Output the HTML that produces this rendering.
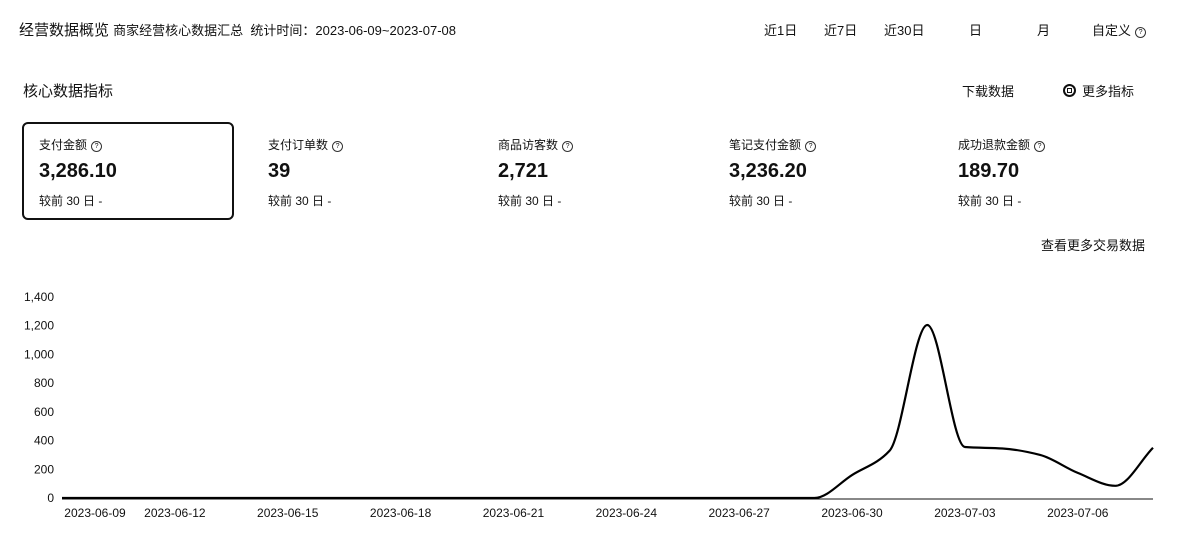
<!DOCTYPE html>
<html><head><meta charset="utf-8"><style>
body{margin:0;width:1179px;height:548px;background:#fff;font-family:"Liberation Sans","Noto Sans CJK SC",sans-serif;color:#111;position:relative;overflow:hidden}
.a{position:absolute;white-space:nowrap}
.card{position:absolute;top:122px;height:98px;width:212px;box-sizing:border-box}
.card .l{position:absolute;left:17px;top:14px;font-size:12px}
.card .v{position:absolute;left:17px;top:38px;font-size:20px;font-weight:bold}
.card .c{position:absolute;left:17px;top:70px;font-size:12px}
.q{display:inline-block;width:9px;height:9px;border:1px solid #333;border-radius:50%;font-size:7px;line-height:9px;text-align:center;margin-left:4px;vertical-align:1px}
</style></head><body>
<div class="a" style="left:19px;top:19px;font-size:15px">经营数据概览 <span style="font-size:13px">商家经营核心数据汇总 &nbsp;统计时间：2023-06-09~2023-07-08</span></div>
<div class="a" style="left:764px;top:20px;font-size:13px">近1日</div>
<div class="a" style="left:824px;top:20px;font-size:13px">近7日</div>
<div class="a" style="left:884px;top:20px;font-size:13px">近30日</div>
<div class="a" style="left:969px;top:20px;font-size:13px">日</div>
<div class="a" style="left:1037px;top:20px;font-size:13px">月</div>
<div class="a" style="left:1092px;top:20px;font-size:13px">自定义<span class="q">?</span></div>
<div class="a" style="left:23px;top:80px;font-size:15px">核心数据指标</div>
<div class="a" style="left:962px;top:81px;font-size:13px">下载数据</div>
<div class="a" style="left:1063px;top:81px;font-size:13px"><span style="display:inline-block;width:9px;height:9px;border:2px solid #111;border-radius:50%;vertical-align:-1px;margin-right:6px;position:relative"><span style="position:absolute;left:2px;top:2px;width:3px;height:3px;border:1px solid #111"></span></span>更多指标</div>

<div class="card" style="left:22px;border:2px solid #111;border-radius:6px"><div class="l" style="left:15px;top:12px">支付金额<span class="q">?</span></div><div class="v" style="left:15px;top:36px">3,286.10</div><div class="c" style="left:15px;top:68px">较前 30 日 -</div></div>
<div class="card" style="left:251px"><div class="l">支付订单数<span class="q">?</span></div><div class="v">39</div><div class="c">较前 30 日 -</div></div>
<div class="card" style="left:481px"><div class="l">商品访客数<span class="q">?</span></div><div class="v">2,721</div><div class="c">较前 30 日 -</div></div>
<div class="card" style="left:712px"><div class="l">笔记支付金额<span class="q">?</span></div><div class="v">3,236.20</div><div class="c">较前 30 日 -</div></div>
<div class="card" style="left:941px"><div class="l">成功退款金额<span class="q">?</span></div><div class="v">189.70</div><div class="c">较前 30 日 -</div></div>
<div class="a" style="left:1041px;top:235px;font-size:13px">查看更多交易数据</div>

<svg id="ch" width="1179" height="548" style="position:absolute;left:0;top:0"></svg>
<script>
const dates=["2023-06-09","2023-06-10","2023-06-11","2023-06-12","2023-06-13","2023-06-14","2023-06-15","2023-06-16","2023-06-17","2023-06-18","2023-06-19","2023-06-20","2023-06-21","2023-06-22","2023-06-23","2023-06-24","2023-06-25","2023-06-26","2023-06-27","2023-06-28","2023-06-29","2023-06-30","2023-07-01","2023-07-02","2023-07-03","2023-07-04","2023-07-05","2023-07-06","2023-07-07","2023-07-08"];
const values=[0,0,0,0,0,0,0,0,0,0,0,0,0,0,0,0,0,0,0,0,0,160,330,1205,355,345,300,175,85,350];
const yTicks=[0,200,400,600,800,1000,1200,1400];
const xLabelIdx=[0,3,6,9,12,15,18,21,24,27];
const svg=document.getElementById('ch'),NS='http://www.w3.org/2000/svg';
const x0=62,x1=1153,y0=498,y1=297;
const X=i=>x0+(x1-x0)*i/(dates.length-1);
const Y=v=>y0-(y0-y1)*v/1400;
function mk(t,a){const e=document.createElementNS(NS,t);for(const k in a)e.setAttribute(k,a[k]);svg.appendChild(e);return e;}
const ax=mk('line',{x1:x0,x2:x1,y1:y0+1,y2:y0+1,stroke:'#111','stroke-width':1});

yTicks.forEach(v=>{const t=mk('text',{x:54,y:Y(v)+4,'text-anchor':'end','font-size':12,'font-family':'Liberation Sans,sans-serif',fill:'#111'});t.textContent=v.toLocaleString('en-US');
});
xLabelIdx.forEach(i=>{const cx=Math.max(X(i),95);const t=mk('text',{x:cx,y:517,'text-anchor':'middle','font-size':12,'font-family':'Liberation Sans,sans-serif',fill:'#111'});t.textContent=dates[i];
});
// monotone cubic interpolation
const P=values.map((v,i)=>[X(i),Y(v)]);
const n=P.length,h=P[1][0]-P[0][0];
const dl=[];for(let i=0;i<n-1;i++)dl.push((P[i+1][1]-P[i][1])/h);
const m=[];for(let i=0;i<n;i++){if(i===0)m.push(dl[0]);else if(i===n-1)m.push(dl[n-2]);else{const a=dl[i-1],b=dl[i];m.push(a*b<=0?0:2/(1/a+1/b));}}
let d='M'+P[0][0]+','+P[0][1];
for(let i=0;i<n-1;i++){const p1=P[i],p2=P[i+1];
d+=' C'+(p1[0]+h/3)+','+(p1[1]+m[i]*h/3)+' '+(p2[0]-h/3)+','+(p2[1]-m[i+1]*h/3)+' '+p2[0]+','+p2[1];}
const ln=mk('path',{d:d,fill:'none',stroke:'#000','stroke-width':2.2});

</script>
</body></html>
